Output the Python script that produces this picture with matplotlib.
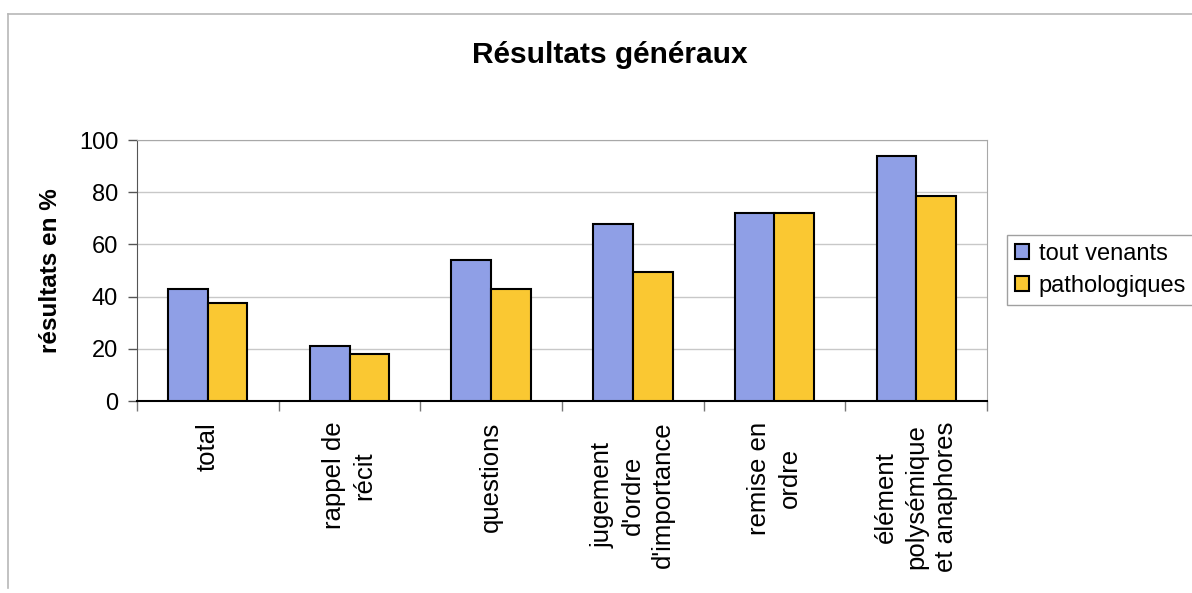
import matplotlib
matplotlib.use('Agg')
from matplotlib import pyplot as plt
from matplotlib.lines import Line2D
import numpy as np

plt.rcParams['font.family'] = ['Liberation Sans', 'DejaVu Sans']

categories = ['total', 'rappel de\nrécit', 'questions', 'jugement\nd\'ordre\nd\'importance',
              'remise en\nordre', 'élément\npolysémique\net anaphores']
tout_venants = [43, 21, 54, 68, 72, 94]
pathologiques = [37.5, 18, 43, 49.5, 72, 78.5]
series_names = ['tout venants', 'pathologiques']
blue = '#8F9FE6'
yellow = '#FAC832'

fig = plt.figure(figsize=(11.92, 5.93), dpi=100)
# outer chart frame: only top and left edges show in the scan
fig.add_artist(Line2D([8 / 1192, 1], [1 - 14 / 593, 1 - 14 / 593], transform=fig.transFigure,
                      color='#b8b8b8', lw=1.2))
fig.add_artist(Line2D([8 / 1192, 8 / 1192], [1 - 14 / 593, 1 - 588 / 593], transform=fig.transFigure,
                      color='#b8b8b8', lw=1.2))

ax = fig.add_axes([137 / 1192, 1 - 401 / 593, 850 / 1192, 261 / 593])
x = np.arange(len(categories))
w = 0.28
ax.bar(x - w / 2, tout_venants, w, color=blue, edgecolor='black', lw=1.5, label=series_names[0], zorder=3)
ax.bar(x + w / 2, pathologiques, w, color=yellow, edgecolor='black', lw=1.5, label=series_names[1], zorder=3)

ax.set_xlim(-0.5, len(categories) - 0.5)
ax.set_ylim(0, 100)
ax.set_yticks([0, 20, 40, 60, 80, 100])
ax.yaxis.grid(True, color='#c8c8c8', lw=1.0, zorder=0)
ax.tick_params(axis='y', length=6.5, width=1, color='#555555', pad=7, labelsize=17)

ax.set_xticks(x)
ax.set_xticklabels(categories, rotation=90, fontsize=18.5, linespacing=1.32, multialignment='center', va='top')
ax.set_xticks(np.arange(-0.5, len(categories)), minor=True)
ax.tick_params(axis='x', which='major', length=0, pad=15)
ax.tick_params(axis='x', which='minor', length=7, width=1, color='#777777', direction='out')

for s in ['top', 'right']:
    ax.spines[s].set_color('#a8a8a8')
ax.spines['left'].set_color('#555555')
ax.spines['bottom'].set_color('black')
ax.spines['bottom'].set_linewidth(1.5)

ax.set_ylabel('résultats en %', fontsize=17.5, fontweight='bold', labelpad=12)
fig.text(610 / 1192, 1 - 55 / 593, 'Résultats généraux', ha='center', va='center',
         fontsize=21.5, fontweight='bold')

leg = ax.legend(loc='center left', bbox_to_anchor=(1007 / 1192, 1 - 270 / 593), bbox_transform=fig.transFigure,
                fontsize=17, frameon=True, fancybox=False, edgecolor='#a0a0a0', framealpha=1,
                handlelength=0.6, handleheight=0.6, handletextpad=0.4, borderpad=0.35, labelspacing=0.4,
                borderaxespad=0)
leg.get_frame().set_linewidth(1.0)

fig.savefig('out.png', dpi=100, facecolor='white')
